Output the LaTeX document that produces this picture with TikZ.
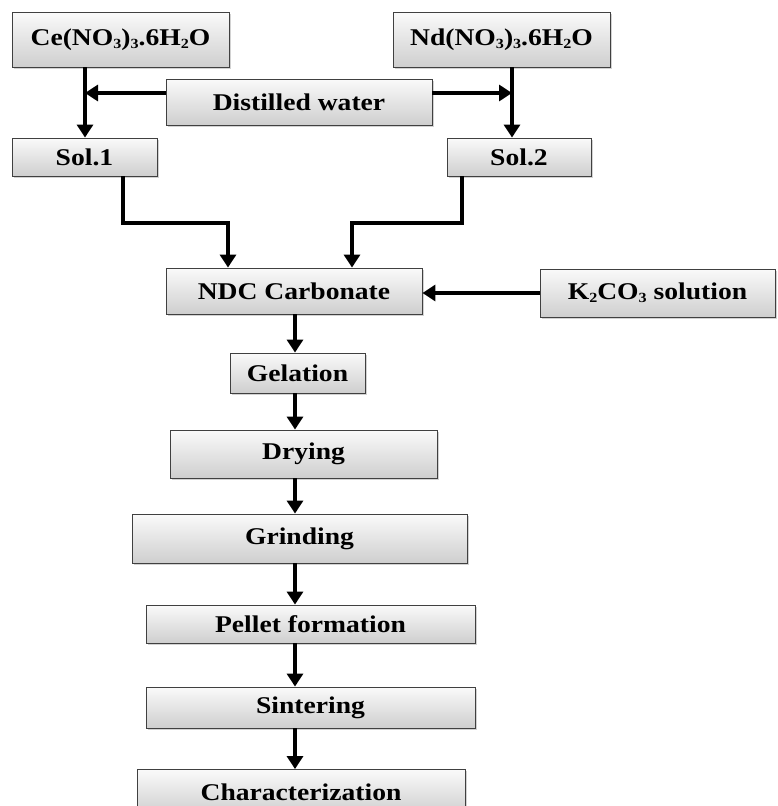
\documentclass[tikz,border=0pt]{standalone}
\usepackage{fontspec}
\setmainfont{Liberation Serif}[FakeStretch=1.15]
\usetikzlibrary{arrows.meta,shadows}
\newcommand{\chsub}[1]{\raisebox{-3pt}{\fontsize{14}{14}\selectfont #1}}
\tikzset{
  box/.style={draw=black!75, line width=0.9pt, top color=gray!4, bottom color=gray!38,
    drop shadow={shadow xshift=1.5pt, shadow yshift=-1.5pt, opacity=0.35},
    font=\fontsize{24}{26}\selectfont\bfseries, inner sep=0pt},
  flow/.style={line width=3.8pt, -{Triangle[width=16pt,length=13pt]}},
}
\begin{document}
\begin{tikzpicture}[x=1pt,y=-1pt]
      \useasboundingbox[fill=white] (0,0) rectangle (777,806);
      \node[box, minimum width=217pt, minimum height=55pt] (ce) at (120.5,39.5) {Ce(NO\chsub{3})\chsub{3}.6H\chsub{2}O};
      \node[box, minimum width=217pt, minimum height=55pt] (nd) at (501.5,39.5) {Nd(NO\chsub{3})\chsub{3}.6H\chsub{2}O};
      \node[box, minimum width=266pt, minimum height=46pt] (water) at (299,102) {Distilled water};
      \node[box, minimum width=145pt, minimum height=38pt] (sol1) at (84.5,157) {Sol.1};
      \node[box, minimum width=144pt, minimum height=38pt] (sol2) at (519,157) {Sol.2};
      \node[box, minimum width=256pt, minimum height=46pt] (ndc) at (294,291) {NDC Carbonate};
      \node[box, minimum width=235pt, minimum height=48pt] (k2co3) at (657.5,293) {K\chsub{2}CO\chsub{3} solution};
      \node[box, minimum width=135pt, minimum height=40pt] (gel) at (297.5,373) {Gelation};
      \node[box, minimum width=267pt, minimum height=48pt] (dry) at (303.5,454) {Drying};
      \node[box, minimum width=335pt, minimum height=49pt] (grind) at (299.5,538.5) {Grinding};
      \node[box, minimum width=329pt, minimum height=38pt] (pellet) at (310.5,624) {Pellet formation};
      \node[box, minimum width=329pt, minimum height=41pt] (sinter) at (310.5,707.5) {Sintering};
      \node[box, minimum width=328pt, minimum height=45pt] (char) at (301,792) {Characterization};
      \coordinate (wl) at (85,93);
      \coordinate (wr) at (512,93);
      \coordinate (mid) at (295,0);
      \coordinate (s1) at (123,223);
      \coordinate (s2) at (462,223);
      \coordinate (n1) at (228,0);
      \coordinate (n2) at (352,0);
      \begin{scope}
        \draw[flow] (ce.south -| wl) to (sol1.north -| wl);
        \draw[flow] (nd.south -| wr) to (sol2.north -| wr);
        \draw[flow] (water.west |- wl) to (wl);
        \draw[flow] (water.east |- wr) to (wr);
        \draw[flow] (sol1.south -| s1) |- (s1 -| n1) -- (ndc.north -| n1);
        \draw[flow] (sol2.south -| s2) |- (s2 -| n2) -- (ndc.north -| n2);
        \draw[flow] (k2co3.west) to (ndc.east |- k2co3.west);
        \draw[flow] (ndc.south -| mid) to (gel.north -| mid);
        \draw[flow] (gel.south -| mid) to (dry.north -| mid);
        \draw[flow] (dry.south -| mid) to (grind.north -| mid);
        \draw[flow] (grind.south -| mid) to (pellet.north -| mid);
        \draw[flow] (pellet.south -| mid) to (sinter.north -| mid);
        \draw[flow] (sinter.south -| mid) to (char.north -| mid);
      \end{scope}
    \end{tikzpicture}
\end{document}
